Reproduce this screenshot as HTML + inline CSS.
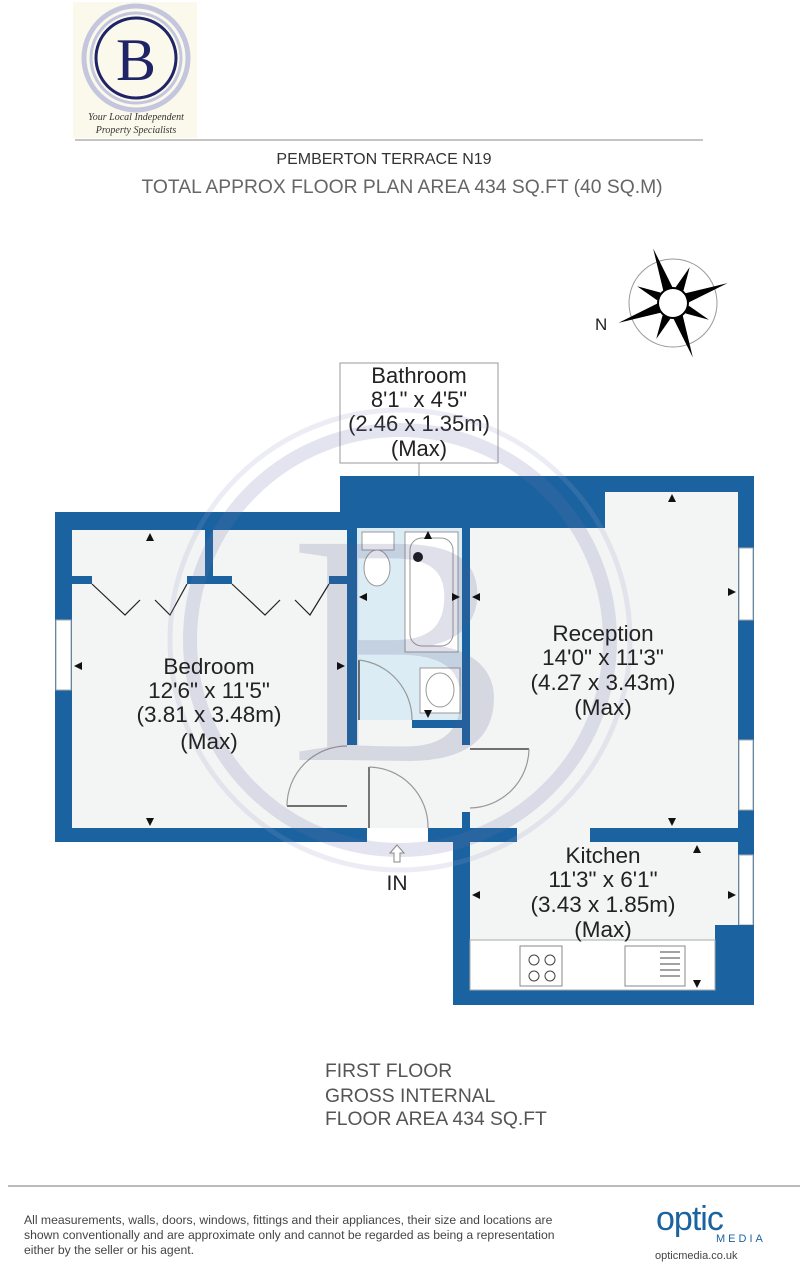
<!DOCTYPE html>
<html><head><meta charset="utf-8"><style>
body{margin:0;background:#fff;width:808px;height:1264px;overflow:hidden;font-family:"Liberation Sans",sans-serif}
</style></head><body>
<svg width="808" height="1264" xmlns="http://www.w3.org/2000/svg" font-family="Liberation Sans, sans-serif">
<!-- logo -->
<rect x="73" y="2" width="124" height="136" fill="#fbf8ec"/>
<circle cx="136" cy="58" r="52" fill="none" stroke="#c4c6de" stroke-width="5"/>
<circle cx="136" cy="58" r="45" fill="none" stroke="#c4c6de" stroke-width="3"/>
<circle cx="136" cy="58" r="40" fill="none" stroke="#1f2466" stroke-width="3"/>
<text x="136" y="80" font-family="Liberation Serif, serif" font-size="60" fill="#1f2466" text-anchor="middle">B</text>
<text x="136" y="120" font-family="Liberation Serif, serif" font-style="italic" font-size="10" fill="#333" text-anchor="middle">Your Local Independent</text>
<text x="136" y="133" font-family="Liberation Serif, serif" font-style="italic" font-size="10" fill="#333" text-anchor="middle">Property Specialists</text>
<line x1="75" y1="140" x2="703" y2="140" stroke="#888" stroke-width="1"/>
<text x="384" y="164" font-size="16" fill="#333" text-anchor="middle">PEMBERTON TERRACE N19</text>
<text x="402" y="193" font-size="19.3" fill="#666" text-anchor="middle">TOTAL APPROX FLOOR PLAN AREA 434 SQ.FT (40 SQ.M)</text>
<!-- compass -->
<g transform="translate(673,303)">
<circle r="44" fill="none" stroke="#999" stroke-width="1"/>
<circle r="15" fill="none" stroke="#000" stroke-width="2"/>
<g fill="#000" transform="rotate(-20)">
<polygon points="0,-58 5,-14 -5,-14"/><polygon points="0,58 5,14 -5,14"/>
<polygon points="-58,0 -14,5 -14,-5"/><polygon points="58,0 14,5 14,-5"/>
<polygon points="-28,-28 -8,-14 -14,-8"/><polygon points="28,-28 8,-14 14,-8"/>
<polygon points="-28,28 -8,14 -14,8"/><polygon points="28,28 8,14 14,8"/>
</g>
</g>
<text x="595" y="330" font-size="17" fill="#222">N</text>
<!-- bathroom label box -->
<rect x="340" y="363" width="158" height="100" fill="#fff" stroke="#999"/>
<line x1="419" y1="463" x2="419" y2="560" stroke="#999"/>
<g font-size="22" fill="#222" text-anchor="middle">
<text x="419" y="383">Bathroom</text><text x="419" y="407">8'1" x 4'5"</text>
<text x="419" y="431">(2.46 x 1.35m)</text><text x="419" y="456">(Max)</text></g>
<!-- walls -->
<g fill="#1a63a0">
<rect x="55" y="512" width="312" height="330"/>
<rect x="340" y="476" width="414" height="366"/>
<rect x="453" y="828" width="301" height="177"/>
</g>
<g fill="#f3f4f4">
<rect x="72" y="530" width="275" height="298"/>
<rect x="357" y="528" width="105" height="300"/>
<rect x="470" y="528" width="135" height="300"/>
<rect x="605" y="492" width="133" height="336"/>
<rect x="470" y="842" width="268" height="148"/>
<rect x="347" y="745" width="123" height="83"/>
<rect x="367" y="828" width="61" height="14" fill="#fff"/>
<rect x="517" y="828" width="73" height="14"/>
</g>
<!-- bathroom tint -->
<rect x="357" y="528" width="105" height="192" fill="#dcecf4"/>
<rect x="412" y="720" width="50" height="8" fill="#1a63a0"/>
<rect x="347" y="528" width="10" height="217" fill="#1a63a0"/>
<rect x="462" y="528" width="8" height="217" fill="#1a63a0"/>
<rect x="462" y="812" width="8" height="16" fill="#1a63a0"/>
<!-- wardrobes -->
<g fill="#1a63a0">
<rect x="205" y="530" width="8" height="54"/>
<rect x="72" y="576" width="20" height="8"/><rect x="187" y="576" width="45" height="8"/><rect x="329" y="576" width="18" height="8"/>
</g>
<g stroke="#222" fill="none" stroke-width="1.2">
<path d="M92 584 L125 615 L140 600 M155 600 L170 615 L187 584"/>
<path d="M232 584 L265 615 L280 600 M295 600 L310 615 L329 584"/>
</g>
<!-- windows -->
<g fill="#fff" stroke="#aaa" stroke-width="1">
<rect x="56" y="620" width="15" height="70"/>
<rect x="739" y="548" width="14" height="72"/>
<rect x="739" y="740" width="14" height="70"/>
<rect x="739" y="855" width="14" height="70"/>
</g>
<rect x="715" y="925" width="39" height="80" fill="#1a63a0"/>
<rect x="470" y="940" width="245" height="50" fill="#fff" stroke="#aaa"/>
<!-- kitchen appliances -->
<rect x="520" y="946" width="42" height="40" fill="#fff" stroke="#888"/>
<g fill="none" stroke="#444"><circle cx="534" cy="960" r="5"/><circle cx="550" cy="960" r="5"/><circle cx="534" cy="976" r="5"/><circle cx="550" cy="976" r="5"/></g>
<rect x="625" y="946" width="60" height="40" fill="#fff" stroke="#888"/>
<g stroke="#444"><line x1="660" y1="952" x2="680" y2="952"/><line x1="660" y1="958" x2="680" y2="958"/><line x1="660" y1="964" x2="680" y2="964"/><line x1="660" y1="970" x2="680" y2="970"/><line x1="660" y1="976" x2="680" y2="976"/></g>
<!-- bathroom fittings -->
<rect x="362" y="532" width="32" height="18" fill="#fff" stroke="#999"/>
<ellipse cx="377" cy="568" rx="13" ry="18" fill="#fff" stroke="#999"/>
<rect x="405" y="532" width="53" height="120" fill="#fff" stroke="#999"/>
<rect x="410" y="538" width="43" height="108" rx="12" fill="#fff" stroke="#999"/>
<circle cx="418" cy="557" r="5" fill="#111"/>
<rect x="420" y="668" width="40" height="45" fill="#fff" stroke="#999"/>
<ellipse cx="440" cy="690" rx="14" ry="17" fill="#fff" stroke="#999"/>
<!-- doors -->
<g stroke="#222" fill="none" stroke-width="1.2">
<line x1="359" y1="660" x2="359" y2="720"/><path d="M359 660 A60 60 0 0 1 412 720" stroke="#999"/>
<line x1="287" y1="806" x2="347" y2="806"/><path d="M287 806 A60 60 0 0 1 347 746" stroke="#999"/>
<line x1="369" y1="767" x2="369" y2="828"/><path d="M369 767 A60 60 0 0 1 428 828" stroke="#999"/>
<line x1="470" y1="749" x2="529" y2="749"/><path d="M529 749 A60 60 0 0 1 470 808" stroke="#999"/>
</g>
<!-- watermark -->
<g opacity="0.18">
<circle cx="400" cy="640" r="210" fill="none" stroke="#6a6fa8" stroke-width="14"/>
<circle cx="400" cy="640" r="230" fill="none" stroke="#9a9ec8" stroke-width="5"/>
<text x="400" y="760" font-family="Liberation Serif, serif" font-size="330" fill="#55598f" text-anchor="middle">B</text>
</g>
<!-- dimension arrows -->
<g fill="#111">
<polygon points="150,533 146,541 154,541"/><polygon points="150,826 146,818 154,818"/>
<polygon points="74,666 82,662 82,670"/><polygon points="345,666 337,662 337,670"/>
<polygon points="359,597 367,593 367,601"/><polygon points="460,597 452,593 452,601"/>
<polygon points="428,531 424,539 432,539"/><polygon points="428,718 424,710 432,710"/>
<polygon points="672,494 668,502 676,502"/><polygon points="672,826 668,818 676,818"/>
<polygon points="472,597 480,593 480,601"/><polygon points="736,592 728,588 728,596"/>
<polygon points="697,845 693,853 701,853"/><polygon points="697,988 693,980 701,980"/>
<polygon points="472,895 480,891 480,899"/><polygon points="736,895 728,891 728,899"/>
</g>
<!-- IN arrow -->
<path d="M397 845 L390 853 L394 853 L394 862 L400 862 L400 853 L404 853 Z" fill="#fff" stroke="#888"/>
<text x="397" y="890" font-size="21" fill="#222" text-anchor="middle">IN</text>
<!-- labels -->
<g font-size="22.5" fill="#222" text-anchor="middle">
<text x="209" y="674">Bedroom</text><text x="209" y="698">12'6" x 11'5"</text><text x="209" y="722">(3.81 x 3.48m)</text><text x="209" y="749">(Max)</text>
<text x="603" y="641">Reception</text><text x="603" y="665">14'0" x 11'3"</text><text x="603" y="690">(4.27 x 3.43m)</text><text x="603" y="715">(Max)</text>
<text x="603" y="863">Kitchen</text><text x="603" y="887">11'3" x 6'1"</text><text x="603" y="912">(3.43 x 1.85m)</text><text x="603" y="937">(Max)</text>
</g>
<g font-size="19.3" fill="#555">
<text x="325" y="1077">FIRST FLOOR</text><text x="325" y="1102">GROSS INTERNAL</text><text x="325" y="1125">FLOOR AREA 434 SQ.FT</text>
</g>
<line x1="8" y1="1186" x2="800" y2="1186" stroke="#777"/>
<g font-size="12.2" fill="#444">
<text x="24" y="1224">All measurements, walls, doors, windows, fittings and their appliances, their size and locations are</text>
<text x="24" y="1239">shown conventionally and are approximate only and cannot be regarded as being a representation</text>
<text x="24" y="1254">either by the seller or his agent.</text>
</g>
<text x="656" y="1230" font-size="34" fill="#1a63a0" letter-spacing="-1">optic</text>
<text x="716" y="1242" font-size="11" fill="#1a63a0" letter-spacing="3">MEDIA</text>
<text x="655" y="1259" font-size="11" fill="#444">opticmedia.co.uk</text>
</svg>
</body></html>
